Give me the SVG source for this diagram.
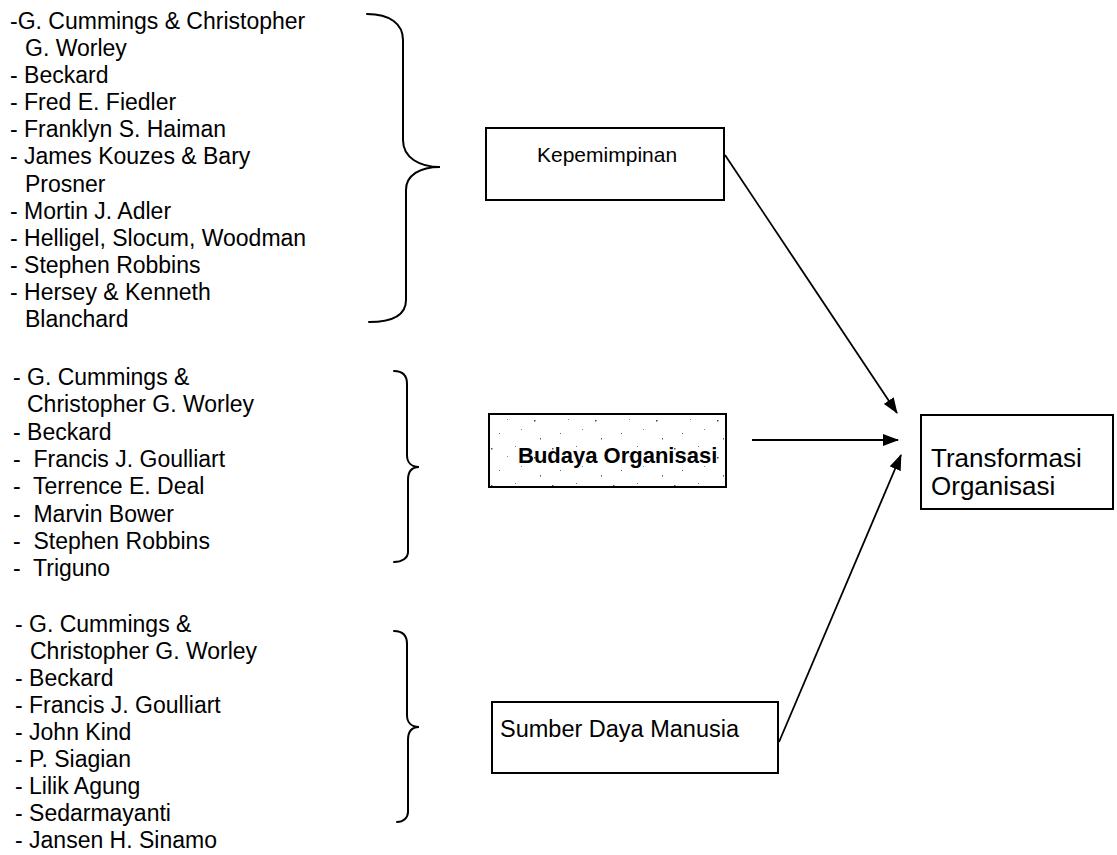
<svg xmlns="http://www.w3.org/2000/svg" width="1117" height="855" viewBox="0 0 1117 855">
  <style>
    .list { font-family: "Liberation Sans", Arial, sans-serif; font-size: 23px; fill: #000; white-space: pre; }
    .label { font-family: "Liberation Sans", Arial, sans-serif; fill: #000; white-space: pre; }
    .box { fill: #fff; stroke: #000; stroke-width: 2; }
    .brace { fill: none; stroke: #000; stroke-width: 2; stroke-linecap: round; }
    .conn { fill: none; stroke: #000; stroke-width: 1.8; }
  </style>
  <defs>
    <marker id="arrow" viewBox="0 0 16 12" refX="15" refY="6" markerWidth="16" markerHeight="12" markerUnits="userSpaceOnUse" orient="auto">
      <path d="M0,0 L16,6 L0,12 Z" fill="#000"/>
    </marker>
    <!-- sparse grey stipple used as the fill of the culture box -->
    <pattern id="stipple" width="61" height="37" patternUnits="userSpaceOnUse">
      <rect width="61" height="37" fill="#fff"/>
      <rect x="3" y="4" width="1.5" height="1.5" fill="#555"/>
      <rect x="27" y="2" width="1" height="1" fill="#777"/>
      <rect x="46" y="13" width="1.5" height="1.5" fill="#444"/>
      <rect x="11" y="26" width="1" height="1" fill="#666"/>
      <rect x="52" y="31" width="1" height="1.5" fill="#555"/>
      <rect x="33" y="22" width="1" height="1" fill="#888"/>
      <rect x="19" y="12" width="1" height="1" fill="#888"/>
    </pattern>
  </defs>

  <rect width="1117" height="855" fill="#fff"/>

  <!-- authors behind leadership -->
  <g id="list-kepemimpinan">
    <text class="list" x="10" y="29">-G. Cummings &amp; Christopher</text>
    <text class="list" x="25" y="56">G. Worley</text>
    <text class="list" x="10" y="83">- Beckard</text>
    <text class="list" x="10" y="110">- Fred E. Fiedler</text>
    <text class="list" x="10" y="137">- Franklyn S. Haiman</text>
    <text class="list" x="10" y="164">- James Kouzes &amp; Bary</text>
    <text class="list" x="25" y="192">Prosner</text>
    <text class="list" x="10" y="219">- Mortin J. Adler</text>
    <text class="list" x="10" y="246">- Helligel, Slocum, Woodman</text>
    <text class="list" x="10" y="273">- Stephen Robbins</text>
    <text class="list" x="10" y="300">- Hersey &amp; Kenneth</text>
    <text class="list" x="25" y="327">Blanchard</text>
    <path class="brace" d="M367,14 C390,14 403,24 403,40 L403,140 C403,158 420,167 440,167 C420,167 406,175 406,190 L406,300 C406,315 392,322 369,322"/>
  </g>

  <!-- authors behind organisational culture -->
  <g id="list-budaya">
    <text class="list" x="13" y="385">- G. Cummings &amp;</text>
    <text class="list" x="27" y="412">Christopher G. Worley</text>
    <text class="list" x="13" y="440">- Beckard</text>
    <text class="list" x="13" y="467">-  Francis J. Goulliart</text>
    <text class="list" x="13" y="494">-  Terrence E. Deal</text>
    <text class="list" x="13" y="522">-  Marvin Bower</text>
    <text class="list" x="13" y="549">-  Stephen Robbins</text>
    <text class="list" x="13" y="576">-  Triguno</text>
    <path class="brace" d="M394,371 C403,371 407,376 407,384 L407,455 C407,462 411,467 419,467 C411,467 408,472 408,480 L408,552 C408,558 402,562 394,562"/>
  </g>

  <!-- authors behind human resources -->
  <g id="list-sdm">
    <text class="list" x="15" y="632">- G. Cummings &amp;</text>
    <text class="list" x="30" y="659">Christopher G. Worley</text>
    <text class="list" x="15" y="686">- Beckard</text>
    <text class="list" x="15" y="713">- Francis J. Goulliart</text>
    <text class="list" x="15" y="740">- John Kind</text>
    <text class="list" x="15" y="767">- P. Siagian</text>
    <text class="list" x="15" y="794">- Lilik Agung</text>
    <text class="list" x="15" y="821">- Sedarmayanti</text>
    <text class="list" x="15" y="848">- Jansen H. Sinamo</text>
    <path class="brace" d="M394,631 C403,631 407,636 407,644 L407,715 C407,722 411,727 419,727 C411,727 408,732 408,740 L408,812 C408,818 403,822 397,822"/>
  </g>

  <g id="node-kepemimpinan">
    <rect class="box" x="486" y="128" width="238" height="72"/>
    <text class="label" x="537" y="162" font-size="21">Kepemimpinan</text>
  </g>

  <g id="node-budaya">
    <rect class="box" x="489" y="414" width="237" height="73" style="fill:url(#stipple)"/>
    <text class="label" x="518" y="463" font-size="22" font-weight="bold">Budaya Organisasi</text>
  </g>

  <g id="node-sdm">
    <rect class="box" x="492" y="702" width="286" height="71"/>
    <text class="label" x="500" y="737" font-size="23.5">Sumber Daya Manusia</text>
  </g>

  <g id="node-transformasi">
    <rect class="box" x="921" y="415" width="192" height="94"/>
    <text class="label" x="931" y="467" font-size="26">Transformasi</text>
    <text class="label" x="931" y="495" font-size="26">Organisasi</text>
  </g>

  <g id="connectors">
    <line class="conn" x1="725" y1="155" x2="897" y2="413" marker-end="url(#arrow)"/>
    <line class="conn" x1="752" y1="440" x2="898" y2="440" marker-end="url(#arrow)"/>
    <line class="conn" x1="779" y1="742" x2="901" y2="455" marker-end="url(#arrow)"/>
  </g>
</svg>
